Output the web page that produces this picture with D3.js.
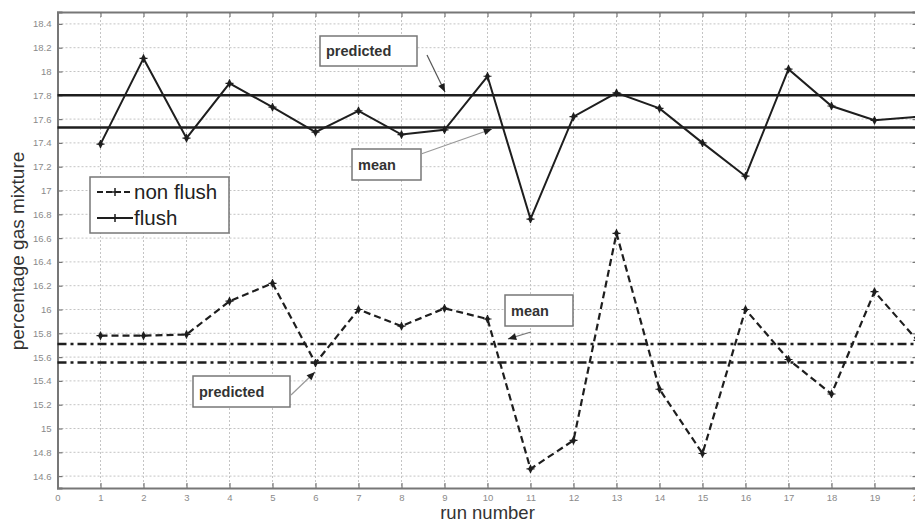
<!DOCTYPE html>
<html><head><meta charset="utf-8">
<script src="https://cdn.jsdelivr.net/npm/d3@7/dist/d3.min.js"></script>
<style>body{margin:0;background:#fff;} svg{display:block;}</style>
</head><body>
<script>
const runs = d3.range(1, 21);
const nonFlush = [15.78,15.78,15.79,16.07,16.22,15.55,16.00,15.86,16.01,15.92,14.66,14.90,16.64,15.33,14.79,16.00,15.58,15.29,16.15,15.74];
const flush = [17.39,18.11,17.44,17.90,17.70,17.49,17.67,17.47,17.51,17.96,16.76,17.62,17.82,17.69,17.40,17.12,18.02,17.71,17.59,17.62];
const flushMean = 17.53, flushPredicted = 17.80;
const nonFlushMean = 15.71, nonFlushPredicted = 15.555;
const xTicks = d3.range(0, 21);
const yTicks = d3.range(14.6, 18.41, 0.2).map(v => +v.toFixed(1));

const W = 915, H = 522;
const svg = d3.select("body").append("svg").attr("width", W).attr("height", H);
const x = d3.scaleLinear().domain([0, 20]).range([57.5, 917.5]);
const y = d3.scaleLinear().domain([14.5, 18.5]).range([488, 12]);
const ink = "#1e1e1e";

// grid
const g = svg.append("g");
g.selectAll(".vg").data(xTicks.slice(1)).join("line")
  .attr("x1", d => x(d)).attr("x2", d => x(d)).attr("y1", y(18.5)).attr("y2", y(14.5))
  .attr("stroke", "#c4c4c4").attr("stroke-width", 1).attr("stroke-dasharray", "2,2");
g.selectAll(".hg").data(yTicks).join("line")
  .attr("x1", x(0)).attr("x2", x(20)).attr("y1", d => y(d)).attr("y2", d => y(d))
  .attr("stroke", "#c4c4c4").attr("stroke-width", 1).attr("stroke-dasharray", "2,2");

// axes
const xAxis = d3.axisBottom(x).tickValues(xTicks).tickSize(-5).tickPadding(6).tickFormat(d3.format("d"));
const yAxis = d3.axisLeft(y).tickValues(yTicks).tickSize(-5).tickPadding(6).tickFormat(d => String(+d.toFixed(1)));
const ax = svg.append("g").attr("transform", `translate(0,${y(14.5)})`).call(xAxis);
const ay = svg.append("g").attr("transform", `translate(${x(0)},0)`).call(yAxis);
const axTop = svg.append("g").attr("transform", `translate(0,${y(18.5)})`).call(d3.axisTop(x).tickValues(xTicks).tickSize(-5).tickFormat(""));
const ayR = svg.append("g").attr("transform", `translate(${x(20)},0)`).call(d3.axisRight(y).tickValues(yTicks).tickSize(-5).tickFormat(""));
[ax, ay, axTop, ayR].forEach(a => {
  a.select(".domain").attr("stroke", "#777").attr("stroke-width", 2);
  a.selectAll(".tick line").attr("stroke", "#777").attr("stroke-width", 1.2);
  a.selectAll("text").attr("font-family", "Liberation Sans, Arial, sans-serif").attr("font-size", 9.5).attr("fill", "#8a8a8a");
});

// reference lines
const ref = svg.append("g");
[[flushPredicted, null], [flushMean, null], [nonFlushMean, "9,4,3,4"], [nonFlushPredicted, "9,4,3,4"]].forEach(([v, dash]) => {
  ref.append("line").attr("x1", x(0)).attr("x2", x(20)).attr("y1", y(v)).attr("y2", y(v))
    .attr("stroke", ink).attr("stroke-width", 2.6).attr("stroke-dasharray", dash);
});

// series
const line = d3.line().x((d, i) => x(runs[i])).y(d => y(d));
svg.append("path").datum(flush).attr("d", line).attr("fill", "none").attr("stroke", ink).attr("stroke-width", 2);
svg.append("path").datum(nonFlush).attr("d", line).attr("fill", "none").attr("stroke", ink).attr("stroke-width", 2.2).attr("stroke-dasharray", "7,4");
function markers(data) {
  const m = svg.append("g").selectAll("g").data(data).join("g")
    .attr("transform", (d, i) => `translate(${x(runs[i])},${y(d)})`);
  m.append("path").attr("d", d3.symbol(d3.symbolDiamond, 22)()).attr("fill", ink);
  m.append("path").attr("d", "M-4,0H4M0,-4V4").attr("stroke", ink).attr("stroke-width", 1.2);
}
markers(flush);
markers(nonFlush);

// annotations
const font = "Liberation Sans, Arial, sans-serif";
function box(x0, y0, w, h, label) {
  svg.append("rect").attr("x", x0).attr("y", y0).attr("width", w).attr("height", h)
    .attr("fill", "#fff").attr("stroke", "#777").attr("stroke-width", 1.5);
  svg.append("text").attr("x", x0 + 6).attr("y", y0 + h / 2 + 5).text(label)
    .attr("font-family", font).attr("font-size", 14.5).attr("font-weight", "bold").attr("fill", "#333");
}
function arrow(x1, y1, x2, y2, color) {
  svg.append("line").attr("x1", x1).attr("y1", y1).attr("x2", x2).attr("y2", y2)
    .attr("stroke", color).attr("stroke-width", 1.2);
  const a = Math.atan2(y2 - y1, x2 - x1), L = 9, s = 0.4;
  const p = [[x2, y2], [x2 - L * Math.cos(a - s), y2 - L * Math.sin(a - s)], [x2 - L * Math.cos(a + s), y2 - L * Math.sin(a + s)]];
  svg.append("path").attr("d", "M" + p.join("L") + "Z").attr("fill", ink);
}
box(320, 36, 97, 30, "predicted");
arrow(427, 55, 445, 92, "#555");
box(352, 149, 69, 31, "mean");
arrow(421, 154, 492, 129, "#999");
box(505, 295, 68, 31, "mean");
arrow(531, 332, 508, 339, "#777");
box(193, 376, 97, 31, "predicted");
arrow(291, 395, 315, 372, "#999");

// legend
svg.append("rect").attr("x", 90).attr("y", 177).attr("width", 139).attr("height", 56)
  .attr("fill", "#fff").attr("stroke", "#777").attr("stroke-width", 1.5);
const leg = [["non flush", "6,3"], ["flush", null]];
leg.forEach(([t, dash], i) => {
  const yy = 192 + i * 26;
  svg.append("line").attr("x1", 97).attr("x2", 133).attr("y1", yy).attr("y2", yy)
    .attr("stroke", ink).attr("stroke-width", 2).attr("stroke-dasharray", dash);
  svg.append("path").attr("d", `M${111},${yy}H${119}M${115},${yy - 4}V${yy + 4}`).attr("stroke", ink).attr("stroke-width", 1.5);
  svg.append("text").attr("x", 134).attr("y", yy + 7).text(t)
    .attr("font-family", font).attr("font-size", 20.5).attr("fill", "#222");
});

// axis labels
svg.append("text").attr("x", x(10)).attr("y", 519).attr("text-anchor", "middle").text("run number")
  .attr("font-family", font).attr("font-size", 18.5).attr("fill", "#333");
svg.append("text").attr("transform", "translate(24,251) rotate(-90)").attr("text-anchor", "middle").text("percentage gas mixture")
  .attr("font-family", font).attr("font-size", 19).attr("fill", "#333");
</script>
</body></html>
